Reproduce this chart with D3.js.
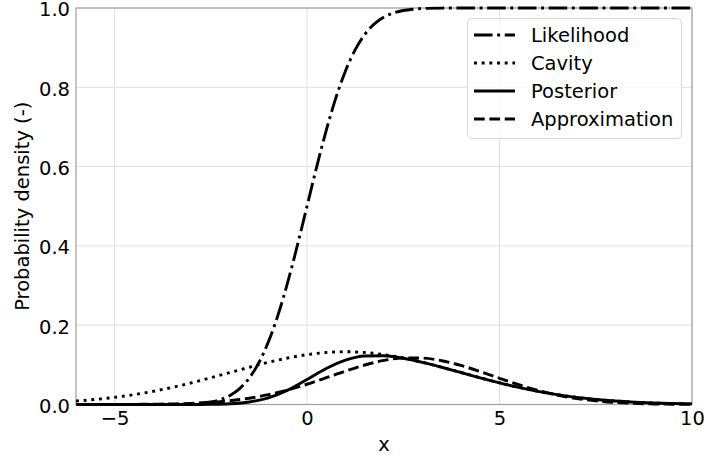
<!DOCTYPE html>
<html>
<head>
<meta charset="utf-8">
<script src="https://cdn.jsdelivr.net/npm/d3@7"></script>
<style>
  html, body { margin: 0; padding: 0; background: #fff; }
  svg { display: block; font-family: "DejaVu Sans", sans-serif; }
</style>
</head>
<body>
<svg id="chart" width="704" height="459"></svg>
<script>
// ---- data ----
const xGrid = [-6,-5.5,-5,-4.5,-4,-3.5,-3,-2.5,-2,-1.5,-1,-0.5,0,0.5,1,1.5,2,2.5,3,3.5,4,4.5,5,5.5,6,6.5,7,7.5,8,8.5,9,9.5,10];
const cavity = [0.00874,0.01272,0.01800,0.02477,0.03316,0.04317,0.05467,0.06733,0.08066,0.09397,0.10648,0.11736,0.12579,0.13115,0.13298,0.13115,0.12579,0.11736,0.10648,0.09397,0.08066,0.06733,0.05467,0.04317,0.03316,0.02477,0.01800,0.01272,0.00874,0.00584,0.00380,0.00240,0.00148];
const posterior = [0,0,0,0,0.000001,0.00001,0.00007,0.00042,0.00184,0.00628,0.01689,0.03621,0.06290,0.09069,0.11188,0.12239,0.12293,0.11663,0.10634,0.09395,0.08065,0.06733,0.05467,0.04317,0.03316,0.02477,0.01800,0.01272,0.00874,0.00584,0.00380,0.00240,0.00148];
const approximation = [0.00002,0.00006,0.00014,0.00033,0.00073,0.00150,0.00294,0.00545,0.00954,0.01579,0.02470,0.03652,0.05106,0.06748,0.08431,0.09958,0.11118,0.11736,0.11710,0.11046,0.09850,0.08303,0.06617,0.04985,0.03550,0.02390,0.01521,0.00915,0.00521,0.00280,0.00142,0.00068,0.00031];
const likelihoodX = [-6,-5,-4,-3.5,-3,-2.75,-2.5,-2.25,-2,-1.75,-1.5,-1.25,-1,-0.75,-0.5,-0.25,0,0.25,0.5,0.75,1,1.25,1.5,1.75,2,2.25,2.5,2.75,3,3.5,4,5,6,7,8,9,10];
const likelihood = [0,0,0.00003,0.0002,0.0013,0.0030,0.0062,0.0122,0.0228,0.0401,0.0668,0.1056,0.1587,0.2266,0.3085,0.4013,0.5,0.5987,0.6915,0.7734,0.8413,0.8944,0.9332,0.9599,0.9772,0.9878,0.9938,0.9970,0.9987,0.9998,1,1,1,1,1,1,1];
const xTicks = [-5, 0, 5, 10];
const yTicks = [0, 0.2, 0.4, 0.6, 0.8, 1.0];
const seriesNames = ["Likelihood", "Cavity", "Posterior", "Approximation"];
const xLabel = "x";
const yLabel = "Probability density (-)";

// ---- layout ----
const W = 704, H = 459;
const margin = {left: 76, top: 8, right: 12, bottom: 54.5};
const pw = W - margin.left - margin.right;
const ph = H - margin.top - margin.bottom;
const FS = 19.5;
const LW = 2.9;
const dashes = {
  "Likelihood": [6.4*LW, 1.6*LW, 1*LW, 1.6*LW].join(","),
  "Cavity": [1*LW, 1.65*LW].join(","),
  "Posterior": null,
  "Approximation": [3.7*LW, 1.6*LW].join(",")
};

const svg = d3.select("#chart");
const g = svg.append("g").attr("transform", `translate(${margin.left},${margin.top})`);

const x = d3.scaleLinear().domain([-6, 10]).range([0, pw]);
const y = d3.scaleLinear().domain([0, 1]).range([ph, 0]);

// grid
g.append("g").selectAll("line").data(xTicks).join("line")
  .attr("x1", d => x(d)).attr("x2", d => x(d)).attr("y1", 0).attr("y2", ph)
  .attr("stroke", "#e0e0e0").attr("stroke-width", 1);
g.append("g").selectAll("line").data(yTicks).join("line")
  .attr("x1", 0).attr("x2", pw).attr("y1", d => y(d)).attr("y2", d => y(d))
  .attr("stroke", "#e0e0e0").attr("stroke-width", 1);

// axes (tick labels only)
const xAxis = g.append("g").attr("transform", `translate(0,${ph})`)
  .call(d3.axisBottom(x).tickValues(xTicks).tickSize(0).tickPadding(7)
    .tickFormat(d => d < 0 ? "\u2212" + Math.abs(d) : String(d)));
xAxis.select(".domain").remove();
xAxis.selectAll("text").attr("font-size", FS).attr("fill", "#000")
  .attr("font-family", "DejaVu Sans, sans-serif");

const yAxis = g.append("g")
  .call(d3.axisLeft(y).tickValues(yTicks).tickSize(0).tickPadding(6).tickFormat(d3.format(".1f")));
yAxis.select(".domain").remove();
yAxis.selectAll("text").attr("font-size", FS).attr("fill", "#000")
  .attr("dy", "0.4em")
  .attr("font-family", "DejaVu Sans, sans-serif");

// spines
g.append("rect").attr("x", 0).attr("y", 0).attr("width", pw).attr("height", ph)
  .attr("fill", "none").attr("stroke", "#a0a0a0").attr("stroke-width", 1.2);

// clip
svg.append("defs").append("clipPath").attr("id", "clip")
  .append("rect").attr("x", 0).attr("y", -2).attr("width", pw).attr("height", ph + 4);

const line = d3.line().x(d => x(d[0])).y(d => y(d[1])).curve(d3.curveMonotoneX);
const seriesData = {
  "Likelihood": likelihoodX.map((v, i) => [v, likelihood[i]]),
  "Cavity": xGrid.map((v, i) => [v, cavity[i]]),
  "Posterior": xGrid.map((v, i) => [v, posterior[i]]),
  "Approximation": xGrid.map((v, i) => [v, approximation[i]])
};
const lines = g.append("g").attr("clip-path", "url(#clip)");
seriesNames.forEach(name => {
  lines.append("path").datum(seriesData[name])
    .attr("d", line).attr("fill", "none").attr("stroke", "#000")
    .attr("stroke-width", LW)
    .attr("stroke-dasharray", dashes[name])
    .attr("stroke-linecap", "butt");
});

// labels
svg.append("text").attr("x", margin.left + pw / 2).attr("y", 451)
  .attr("text-anchor", "middle").attr("font-size", FS).text(xLabel);
svg.append("text").attr("transform", `translate(29,${margin.top + ph / 2}) rotate(-90)`)
  .attr("text-anchor", "middle").attr("font-size", FS).text(yLabel);

// legend
const leg = svg.append("g");
leg.append("rect").attr("x", 467.5).attr("y", 18.5).attr("width", 214).attr("height", 120)
  .attr("rx", 4).attr("fill", "rgba(255,255,255,0.8)").attr("stroke", "#d6d6d6").attr("stroke-width", 1);
seriesNames.forEach((name, i) => {
  const cy = 35 + i * 28;
  leg.append("line").attr("x1", 474).attr("x2", 515).attr("y1", cy).attr("y2", cy)
    .attr("stroke", "#000").attr("stroke-width", LW).attr("stroke-dasharray", dashes[name]);
  leg.append("text").attr("x", 531).attr("y", cy).attr("dy", "0.35em")
    .attr("font-size", FS).text(name);
});
</script>
</body>
</html>
